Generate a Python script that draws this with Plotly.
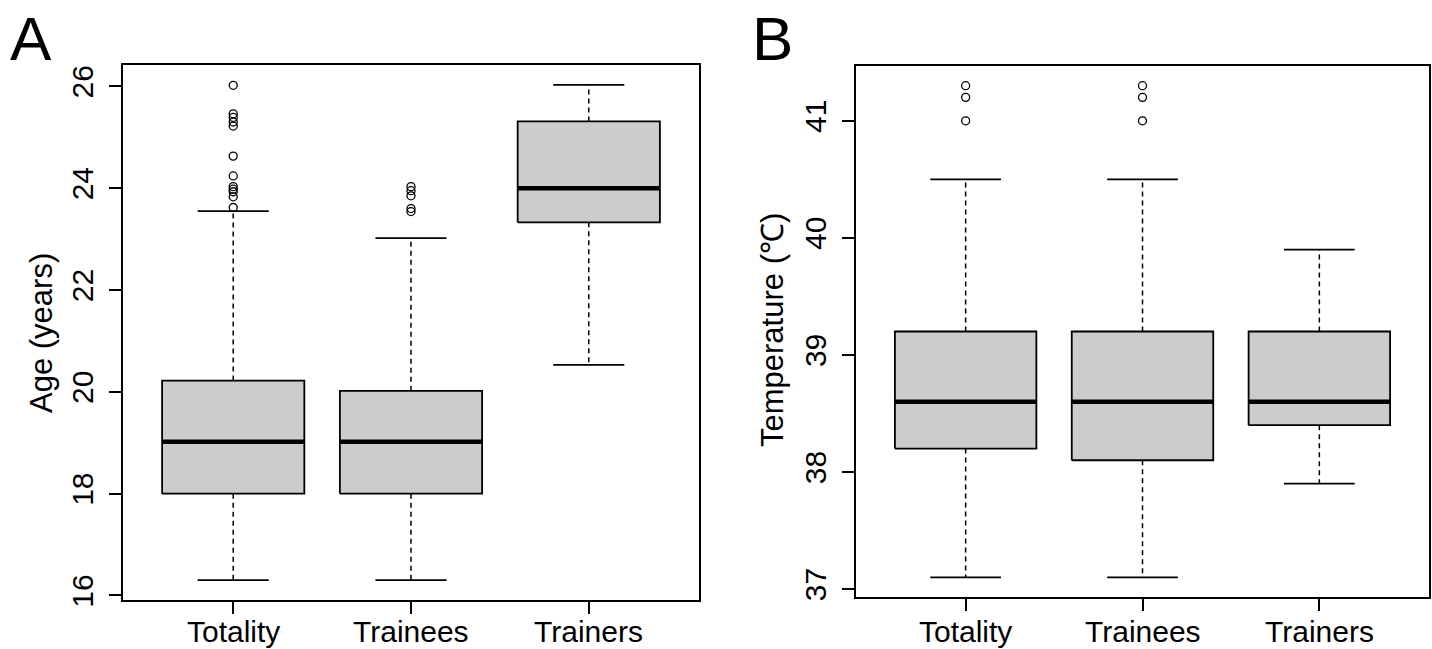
import plotly.graph_objects as go

# ---------------- data ----------------
groups = ["Totality", "Trainees", "Trainers"]

age_lower = [16.3, 16.3, 20.53]
age_q1 = [18.0, 18.0, 23.33]
age_median = [19.02, 19.02, 24.0]
age_q3 = [20.22, 20.02, 25.31]
age_upper = [23.55, 23.02, 26.03]
age_outliers_totality = [26.02, 25.46, 25.39, 25.30, 25.22, 24.63, 24.24, 24.03, 23.98, 23.93, 23.83, 23.62]
age_outliers_trainees = [24.03, 23.95, 23.85, 23.60, 23.54]
age_outliers_trainers = []

temp_lower = [37.1, 37.1, 37.9]
temp_q1 = [38.2, 38.1, 38.4]
temp_median = [38.6, 38.6, 38.6]
temp_q3 = [39.2, 39.2, 39.2]
temp_upper = [40.5, 40.5, 39.9]
temp_outliers_totality = [41.0, 41.2, 41.3]
temp_outliers_trainees = [41.0, 41.2, 41.3]
temp_outliers_trainers = []

age_ticks = [16, 18, 20, 22, 24, 26]
temp_ticks = [37, 38, 39, 40, 41]

# ---------------- styling ----------------
W, H = 1432, 649
FONT = "Liberation Sans, Arial, sans-serif"
BOX_FILL = "#CCCCCC"
HALF = 0.4      # half box width (category units)
CAP = 0.2       # half cap width

fig = go.Figure()


def add_boxes(lower, q1, med, q3, upper, outliers, xa, ya):
    xs_box, ys_box = [], []
    xs_med, ys_med = [], []
    xs_wh, ys_wh = [], []
    xs_cap, ys_cap = [], []
    xs_out, ys_out = [], []
    for i in range(len(groups)):
        c = i + 1
        xs_box += [c - HALF, c + HALF, c + HALF, c - HALF, c - HALF, None]
        ys_box += [q1[i], q1[i], q3[i], q3[i], q1[i], None]
        xs_med += [c - HALF, c + HALF, None]
        ys_med += [med[i], med[i], None]
        xs_wh += [c, c, None, c, c, None]
        ys_wh += [q3[i], upper[i], None, q1[i], lower[i], None]
        xs_cap += [c - CAP, c + CAP, None, c - CAP, c + CAP, None]
        ys_cap += [upper[i], upper[i], None, lower[i], lower[i], None]
        for v in outliers[i]:
            xs_out.append(c)
            ys_out.append(v)
    common = dict(xaxis=xa, yaxis=ya, showlegend=False, hoverinfo="skip")
    fig.add_trace(go.Scatter(x=xs_wh, y=ys_wh, mode="lines",
                             line=dict(color="black", width=1.5, dash="5px,4px"), **common))
    fig.add_trace(go.Scatter(x=xs_box, y=ys_box, mode="lines", fill="toself",
                             fillcolor=BOX_FILL, line=dict(color="black", width=1.8), **common))
    fig.add_trace(go.Scatter(x=xs_med, y=ys_med, mode="lines",
                             line=dict(color="black", width=4.5), **common))
    fig.add_trace(go.Scatter(x=xs_cap, y=ys_cap, mode="lines",
                             line=dict(color="black", width=1.8), **common))
    fig.add_trace(go.Scatter(x=xs_out, y=ys_out, mode="markers",
                             marker=dict(symbol="circle-open", size=8, color="black",
                                         line=dict(width=1.3, color="black")), **common))


add_boxes(age_lower, age_q1, age_median, age_q3, age_upper,
          [age_outliers_totality, age_outliers_trainees, age_outliers_trainers], "x", "y")
add_boxes(temp_lower, temp_q1, temp_median, temp_q3, temp_upper,
          [temp_outliers_totality, temp_outliers_trainees, temp_outliers_trainers], "x2", "y2")


def px_x(p):
    return p / W


def px_y(p):
    return 1 - p / H


axis_common = dict(showline=True, linecolor="black", linewidth=2, mirror=True,
                   ticks="outside", ticklen=12, tickwidth=1.5, tickcolor="black",
                   showgrid=False, zeroline=False, automargin=False,
                   tickfont=dict(family=FONT, size=30, color="black"))

xcat = dict(tickmode="array", tickvals=[1, 2, 3], ticktext=groups,
            range=[0.38, 3.62], showticklabels=False)

age_min = min(age_lower)
age_max = max(age_upper + age_outliers_totality)
age_pad = (age_max - age_min) * 0.04
temp_min = min(temp_lower)
temp_max = max(temp_upper + temp_outliers_totality)
temp_pad = (temp_max - temp_min) * 0.04

annotations = [
    dict(text="A", x=px_x(31), y=px_y(38), xref="paper", yref="paper",
         showarrow=False, xanchor="center", yanchor="middle",
         font=dict(family=FONT, size=62, color="black")),
    dict(text="B", x=px_x(772), y=px_y(38), xref="paper", yref="paper",
         showarrow=False, xanchor="center", yanchor="middle",
         font=dict(family=FONT, size=62, color="black")),
    dict(text="Age (years)", x=px_x(41), y=px_y(333), xref="paper", yref="paper",
         showarrow=False, xanchor="center", yanchor="middle", textangle=-90,
         font=dict(family=FONT, size=31, color="black")),
    dict(text="Temperature (℃)", x=px_x(772), y=px_y(330), xref="paper", yref="paper",
         showarrow=False, xanchor="center", yanchor="middle", textangle=-90,
         font=dict(family=FONT, size=31, color="black")),
]
# category labels under each panel (placed on the category axis positions)
for xref in ["x", "x2"]:
    for i, g in enumerate(groups):
        annotations.append(dict(text=g, x=i + 1, xref=xref, y=px_y(631), yref="paper",
                                showarrow=False, xanchor="center", yanchor="middle",
                                font=dict(family=FONT, size=30, color="black")))

fig.update_layout(
    width=W, height=H,
    margin=dict(l=0, r=0, t=0, b=0),
    paper_bgcolor="white", plot_bgcolor="white",
    font=dict(family=FONT, color="black"),
    xaxis=dict(domain=[px_x(123), px_x(699)], anchor="y", **xcat, **axis_common),
    yaxis=dict(domain=[px_y(600), px_y(65)], anchor="x",
               range=[age_min - age_pad, age_max + age_pad],
               tickvals=age_ticks, tickangle=-90, ticklabelstandoff=4, **axis_common),
    xaxis2=dict(domain=[px_x(856), px_x(1429)], anchor="y2", **xcat, **axis_common),
    yaxis2=dict(domain=[px_y(597), px_y(66)], anchor="x2",
                range=[temp_min - temp_pad, temp_max + temp_pad],
                tickvals=temp_ticks, tickangle=-90, ticklabelstandoff=4, **axis_common),
    annotations=annotations,
)

fig.write_html("out.html", config={"displayModeBar": False},
               post_script="document.body.style.margin='0px';document.body.style.overflow='hidden';")
